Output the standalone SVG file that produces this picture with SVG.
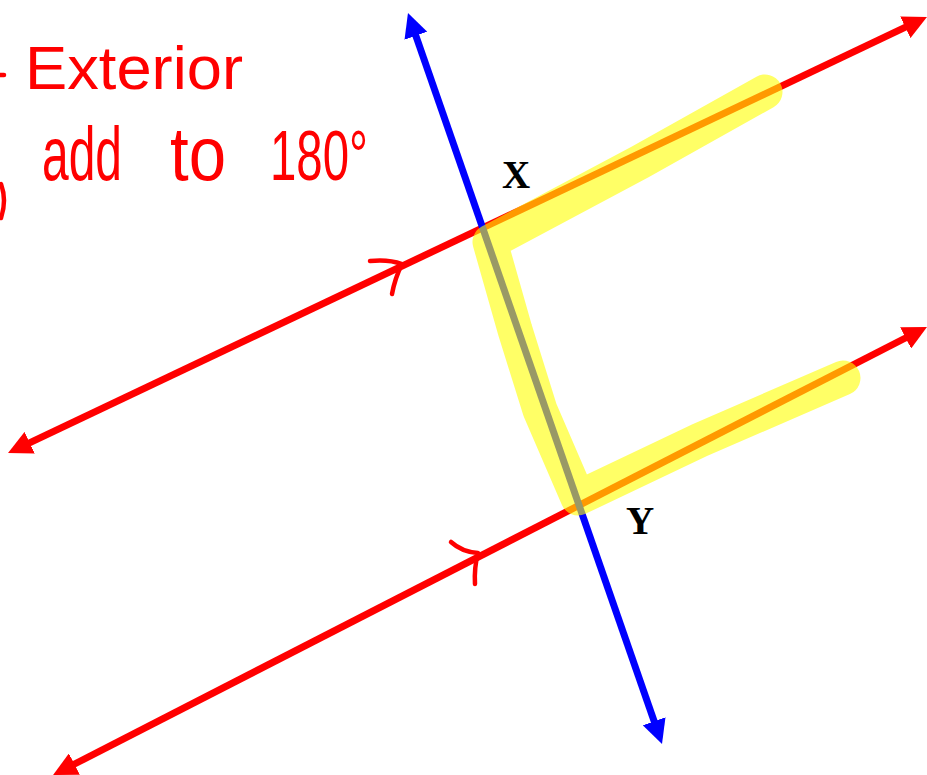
<svg xmlns="http://www.w3.org/2000/svg" width="927" height="775" viewBox="0 0 927 775">
  <style>
    .red { stroke: #ff0000; stroke-width: 7; fill: none; }
    .blue { stroke: #0000ff; stroke-width: 7; fill: none; }
    .ink { stroke: #ff0000; stroke-width: 4.5; fill: none; stroke-linecap: round; stroke-linejoin: round; }
    .hand { font-family: "Liberation Sans", "DejaVu Sans", sans-serif; fill: #ff0000; }
    .lbl { font-family: "Liberation Serif", "Times New Roman", serif; font-weight: bold; font-size: 39px; fill: #000000; }
    .hl { stroke: #ffff00; stroke-opacity: 0.6; stroke-width: 35; fill: none; stroke-linecap: round; stroke-linejoin: round; }
  </style>
  <defs>
    <marker id="arrRed" viewBox="0 0 24 24" refX="2" refY="12" markerWidth="24" markerHeight="24" markerUnits="userSpaceOnUse" orient="auto-start-reverse">
      <path d="M0,0 L24,12 L0,24 z" fill="#ff0000"/>
    </marker>
    <marker id="arrBlue" viewBox="0 0 24 24" refX="2" refY="12" markerWidth="24" markerHeight="24" markerUnits="userSpaceOnUse" orient="auto-start-reverse">
      <path d="M0,0 L24,12 L0,24 z" fill="#0000ff"/>
    </marker>
  </defs>

  <g id="connectors">
    <line id="line-top" class="red" x1="27.9" y1="443.6" x2="907.1" y2="26.4" marker-start="url(#arrRed)" marker-end="url(#arrRed)"/>
    <line id="line-bottom" class="red" x1="72.6" y1="765" x2="907.4" y2="337" marker-start="url(#arrRed)" marker-end="url(#arrRed)"/>
    <line id="transversal" class="blue" x1="415.2" y1="33.8" x2="654.8" y2="723.2" marker-start="url(#arrBlue)" marker-end="url(#arrBlue)"/>
  </g>

  <g id="parallel-marks">
    <path class="ink" d="M370,261 Q388,259 402,264 Q395,278 392,294"/>
    <path class="ink" d="M451,542 Q462,552 478,553 Q474,568 475,584"/>
  </g>

  <g id="highlight">
    <path class="hl" d="M765,92 L640,162 L490,242 L515,330 L540,410 L578,498 L700,440 L843,378"/>
  </g>

  <g id="node-X">
    <text class="lbl" x="502" y="188">X</text>
  </g>
  <g id="node-Y">
    <text class="lbl" x="626" y="534">Y</text>
  </g>

  <g id="note">
    <path class="ink" d="M0,75 L4,75"/>
    <path class="ink" d="M1,184 Q7,200 1,218"/>
    <text class="hand" x="25" y="89" font-size="62" textLength="218" lengthAdjust="spacingAndGlyphs">Exterior</text>
    <text class="hand" x="42" y="180" font-size="76" textLength="80" lengthAdjust="spacingAndGlyphs">add</text>
    <text class="hand" x="170" y="180" font-size="76" textLength="56" lengthAdjust="spacingAndGlyphs">to</text>
    <text class="hand" x="270" y="180" font-size="70" textLength="98" lengthAdjust="spacingAndGlyphs">180°</text>
  </g>
</svg>
